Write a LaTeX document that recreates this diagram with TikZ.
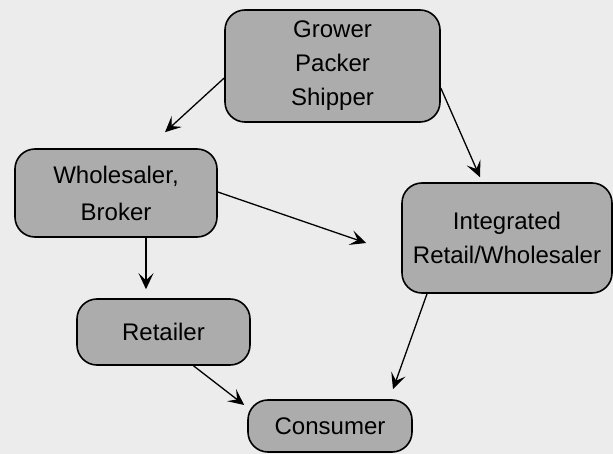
\documentclass[tikz,border=0pt]{standalone}
\usepackage{fontspec}
\setmainfont{Liberation Sans}
\usetikzlibrary{arrows.meta}
\definecolor{bgc}{RGB}{236,236,236}
\definecolor{boxc}{RGB}{172,172,172}
\begin{document}
\begin{tikzpicture}[x=1pt,y=-1pt,
  box/.style={draw=black, line width=1.6pt, rounded corners=20pt, fill=boxc,
    align=center, inner sep=0pt, font=\fontsize{24}{34}\selectfont},
  arr/.style={line width=1.3pt, -{Stealth[length=16pt,width=15pt,inset=7pt]}}]
\fill[bgc] (0,0) rectangle (613,454);
\useasboundingbox (0,0) rectangle (613,454);
\node[box, minimum width=215pt, minimum height=112pt] (grower) at (332.5,66) {Grower\\Packer\\Shipper};
\node[box, minimum width=202pt, minimum height=88pt] (whole) at (116,193) {Wholesaler,\\[3pt]Broker};
\node[box, minimum width=210pt, minimum height=110pt] (integ) at (507,238) {Integrated\\Retail/Wholesaler};
\node[box, minimum width=173pt, minimum height=66pt] (retail) at (163.5,332) {Retailer};
\node[box, minimum width=164pt, minimum height=52pt] (cons) at (330,426) {Consumer};
\draw[arr] ([yshift=-12pt]grower.west) -- ([xshift=49pt,yshift=16pt]whole.north);
\draw[arr] ([yshift=-22pt]grower.east) -- ([xshift=-27pt,yshift=5pt]integ.north);
\draw[arr] ([yshift=1pt]whole.east) -- ([xshift=-35pt,yshift=-5pt]integ.west);
\draw[arr] ([xshift=30pt]whole.south) -- ([xshift=-17.5pt,yshift=9pt]retail.north);
\draw[arr] ([xshift=-80pt]integ.south) -- ([xshift=63pt,yshift=10pt]cons.north);
\draw[arr] ([xshift=30pt]retail.south) -- ([xshift=-3pt,yshift=21pt]cons.west);
\end{tikzpicture}
\end{document}
